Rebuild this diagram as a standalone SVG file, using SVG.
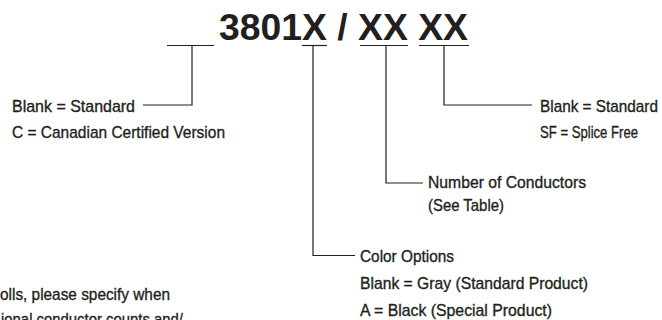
<svg xmlns="http://www.w3.org/2000/svg" width="662" height="320" viewBox="0 0 662 320">
<style>
.t{font-family:"Liberation Sans Narrow","Arial Narrow","Liberation Sans",Arial,sans-serif;font-size:17px;fill:#231f20;stroke:#231f20;stroke-width:0.35}
.title{font-family:"Liberation Sans",Arial,sans-serif;font-weight:bold;font-size:37px;fill:#231f20}
.ln{stroke:#231f20;stroke-width:1.2;fill:none}
</style>
<rect width="662" height="320" fill="#ffffff"/>
<g id="title">
<text class="title" x="219" y="40" textLength="249" lengthAdjust="spacingAndGlyphs">3801X / XX XX</text>
</g>
<g id="connectors">
<path class="ln" d="M167 45.5H214"/>
<path class="ln" d="M302 45.5H327"/>
<path class="ln" d="M360 45.5H408"/>
<path class="ln" d="M419 45.5H469"/>
<path class="ln" d="M192 45.5V105H143"/>
<path class="ln" d="M313 45.5V255.5H355"/>
<path class="ln" d="M386 45.5V183H423"/>
<path class="ln" d="M444 45.5V105H532"/>
</g>
<g id="node-version">
<text class="t" x="12" y="112" textLength="123" lengthAdjust="spacingAndGlyphs">Blank = Standard</text>
<text class="t" x="12" y="138" textLength="213" lengthAdjust="spacingAndGlyphs">C = Canadian Certified Version</text>
</g>
<g id="node-splice">
<text class="t" x="540" y="112" textLength="118" lengthAdjust="spacingAndGlyphs">Blank = Standard</text>
<text class="t" x="540" y="138" textLength="98" lengthAdjust="spacingAndGlyphs">SF = Splice Free</text>
</g>
<g id="node-conductors">
<text class="t" x="428" y="188" textLength="158" lengthAdjust="spacingAndGlyphs">Number of Conductors</text>
<text class="t" x="428" y="211" textLength="76" lengthAdjust="spacingAndGlyphs">(See Table)</text>
</g>
<g id="node-color">
<text class="t" x="360" y="262" textLength="94" lengthAdjust="spacingAndGlyphs">Color Options</text>
<text class="t" x="360" y="289" textLength="228" lengthAdjust="spacingAndGlyphs">Blank = Gray (Standard Product)</text>
<text class="t" x="360" y="316" textLength="192" lengthAdjust="spacingAndGlyphs">A = Black (Special Product)</text>
</g>
<g id="note">
<text class="t" x="0" y="300" textLength="170" lengthAdjust="spacingAndGlyphs">olls, please specify when</text>
<text class="t" x="1" y="325" textLength="182" lengthAdjust="spacingAndGlyphs">ional conductor counts and/</text>
</g>
</svg>
